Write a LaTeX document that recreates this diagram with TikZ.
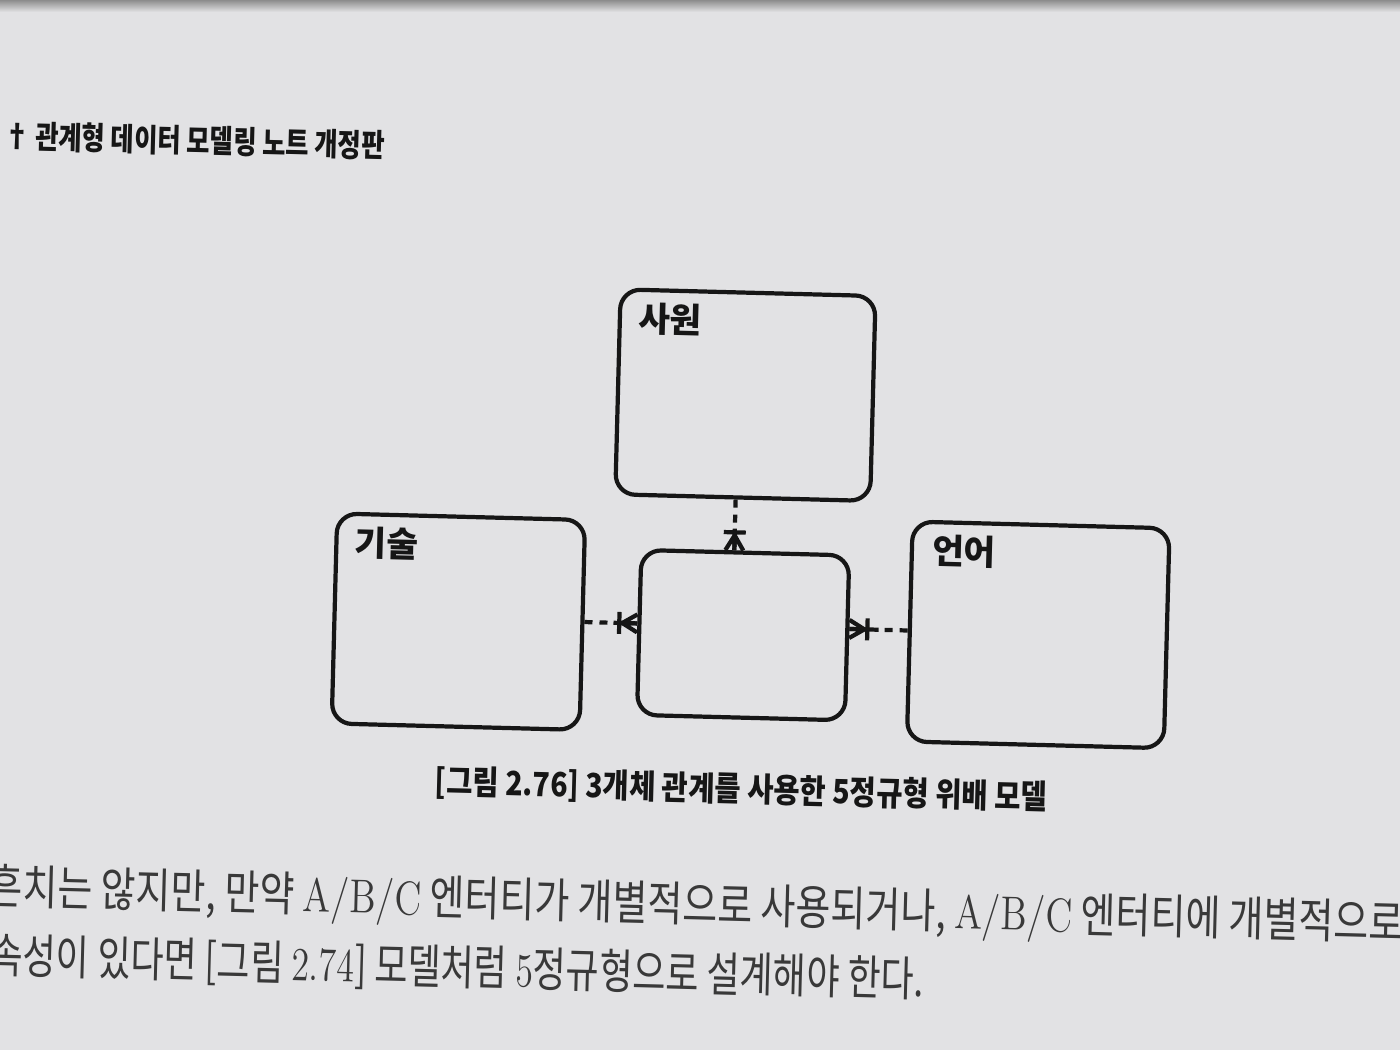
\documentclass[tikz,border=0pt]{standalone}
\usepackage{fontspec}
\newfontfamily\kr{Noto Sans CJK KR}
\usetikzlibrary{positioning,calc}
\definecolor{paper}{RGB}{226,226,228}
\definecolor{ink}{RGB}{22,22,22}
\tikzset{
  ent/.style={draw=ink,line width=1.2pt,rounded corners=0.2cm,inner sep=0pt},
  entname/.style={inner sep=0pt,font=\kr\bfseries\fontsize{9.8}{10}\selectfont,text=ink},
  rel/.style={draw=ink,line width=1.2pt,
    dash pattern=on 0.08cm off 0.07cm on 0.08cm off 0.06cm on 3cm off 0cm},
  crow/.pic={
    \draw[ink,line width=1.2pt] (-0.11,0.18) -- (0.11,0.18) (0,0.18) -- (0,0)
      (0,0.15) -- (-0.09,0) (0,0.15) -- (0.09,0);},
  hdr/.style={inner sep=0pt,font=\kr\bfseries\fontsize{9}{10}\selectfont,xscale=0.8,text=ink},
  figcapt/.style={inner sep=0pt,font=\kr\bfseries\fontsize{9.5}{10}\selectfont,xscale=0.855,text=ink},
  bodytext/.style={inner sep=0pt,font=\kr\fontsize{13.5}{14}\selectfont,text=ink!85},
}

\begin{document}
\begin{tikzpicture}
  % page
  \fill[paper] (0,0) rectangle (14,10.5);
  \fill[top color=black!45,bottom color=paper] (0,10.38) rectangle (14,10.5);
  \useasboundingbox (0,0) rectangle (14,10.5);
  \begin{scope}[rotate around={-1.5:(7,5.25)},transform shape]
    \node[hdr,anchor=west] (header) at (-0.06,8.96) {† 관계형 데이터 모델링 노트 개정판};

    % entities
    \node[ent,minimum width=2.55cm,minimum height=2.05cm] (sawon) at (7.42,6.56) {};
    \node[ent,minimum width=2.48cm,minimum height=2.10cm] (gisul) at (4.61,4.22) {};
    \node[ent,minimum width=2.57cm,minimum height=2.20cm] (eoneo) at (10.41,4.24) {};
    \node[ent,minimum width=2.08cm,minimum height=1.65cm] (sawongisul) at (7.46,4.16) {};
    \node[entname,below right=0.14cm and 0.2cm of sawon.north west] (sawonname) {사원};
    \node[entname,below right=0.14cm and 0.2cm of gisul.north west] (gisulname) {기술};
    \node[entname,below right=0.14cm and 0.22cm of eoneo.north west] (eoneoname) {언어};

    % relationships
    \coordinate (rx) at (7.35,0);
    \coordinate (ry) at (0,4.25);
    \draw[rel] (sawon.south -| rx) -- (sawongisul.north -| rx);
    \pic at (sawongisul.north -| rx) {crow};
    \draw[rel] (gisul.east |- ry) -- (sawongisul.west |- ry);
    \pic[rotate=90] at (sawongisul.west |- ry) {crow};
    \draw[rel] (eoneo.west |- ry) -- (sawongisul.east |- ry);
    \pic[rotate=-90] at (sawongisul.east |- ry) {crow};

    \node[figcapt] (caption) at (7.48,2.61) {[그림 2.76] 3개체 관계를 사용한 5정규형 위배 모델};

    % body text
    \node[bodytext,xscale=0.8,anchor=west] (line1) at (-0.03,1.42)
      {흔치는 않지만, 만약 {\rmfamily A/B/C} 엔터티가 개별적으로 사용되거나, {\rmfamily A/B/C} 엔터티에 개별적으로};
    \node[bodytext,xscale=0.76,anchor=west] (line2) at (0.01,0.75)
      {속성이 있다면 [그림 {\rmfamily 2.74}] 모델처럼 {\rmfamily 5}정규형으로 설계해야 한다.};
  \end{scope}
\end{tikzpicture}
\end{document}
